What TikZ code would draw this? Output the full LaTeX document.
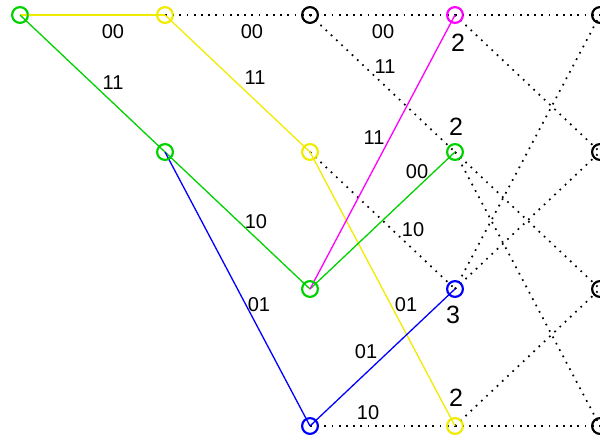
\documentclass[tikz,border=0pt]{standalone}
\usepackage{fontspec}
\setmainfont{Liberation Sans}
\definecolor{cgreen}{RGB}{0,210,0}
\definecolor{cyellow}{RGB}{240,235,0}
\definecolor{cmag}{RGB}{255,0,255}
\definecolor{cblue}{RGB}{0,0,255}
\begin{document}
\begin{tikzpicture}[x=1pt,y=-1pt,
  st/.style={circle, draw, line width=1.8pt, minimum size=16pt, inner sep=0pt},
  dotl/.style={black, line width=1.7pt, dash pattern=on 1.7pt off 5.5pt},
  edgeline/.style={line width=1.3pt},
  lab/.style={font=\fontsize{20}{20}\selectfont, inner sep=0pt},
  met/.style={font=\fontsize{25}{25}\selectfont, inner sep=0pt}]
\useasboundingbox (0,0) rectangle (600,439);
% states
\node[st, cgreen] (n00) at (20,15) {};
\node[st, cyellow] (n10) at (165,15) {};
\node[st, cgreen] (n11) at (165,152) {};
\node[st, black] (n20) at (310,15) {};
\node[st, cyellow] (n21) at (310,152) {};
\node[st, cgreen] (n22) at (310,289) {};
\node[st, cblue] (n23) at (310,426) {};
\node[st, cmag] (n30) at (455,15) {};
\node[st, cgreen] (n31) at (455,152) {};
\node[st, cblue] (n32) at (455,289) {};
\node[st, cyellow] (n33) at (455,426) {};
\node[st, black] (n40) at (600,15) {};
\node[st, black] (n41) at (600,152) {};
\node[st, black] (n42) at (600,289) {};
\node[st, black] (n43) at (600,426) {};
% dotted branches
\foreach \a/\b in {n10/n20,n20/n30,n20/n31,n21/n32,n23/n33,n30/n40,n30/n41,n31/n42,n31/n43,n32/n40,n32/n41,n33/n42,n33/n43}
  \draw[dotl] (\a.center) -- (\b.center);
% survivor paths
\draw[edgeline, cyellow] (n00.center) -- (n10.center);
\draw[edgeline, cyellow] (n10.center) -- (n21.center);
\draw[edgeline, cyellow] (n21.center) -- (n33.center);
\draw[edgeline, cgreen] (n00.center) -- (n11.center);
\draw[edgeline, cgreen] (n11.center) -- (n22.center);
\draw[edgeline, cgreen] (n22.center) -- (n31.center);
\draw[edgeline, cblue] (n11.center) -- (n23.center);
\draw[edgeline, cblue] (n23.center) -- (n32.center);
\draw[edgeline, cmag] (n22.center) -- (n30.center);
% redraw circles on top
\foreach \n/\c in {n00/cgreen,n10/cyellow,n11/cgreen,n20/black,n21/cyellow,n22/cgreen,n23/cblue,n30/cmag,n31/cgreen,n32/cblue,n33/cyellow,n40/black,n41/black,n42/black,n43/black}
  \draw[\c, line width=1.8pt] (\n.center) circle (7.8pt);
% branch labels
\node[lab] (l1) at (113,32) {00};
\node[lab] (l2) at (113,83) {11};
\node[lab] (l3) at (252,32) {00};
\node[lab] (l4) at (255,78) {11};
\node[lab] (l5) at (383,32) {00};
\node[lab] (l6) at (385,67) {11};
\node[lab] (l7) at (374,138) {11};
\node[lab] (l8) at (417,172) {00};
\node[lab] (l9) at (256,222) {10};
\node[lab] (l10) at (413,230) {10};
\node[lab] (l11) at (259,305) {01};
\node[lab] (l12) at (406,305) {01};
\node[lab] (l13) at (366,352) {01};
\node[lab] (l14) at (368,413) {10};
% metrics
\node[met] (m1) at (458,43) {2};
\node[met] (m2) at (456,127) {2};
\node[met] (m3) at (453,315) {3};
\node[met] (m4) at (456,398) {2};
\end{tikzpicture}
\end{document}
